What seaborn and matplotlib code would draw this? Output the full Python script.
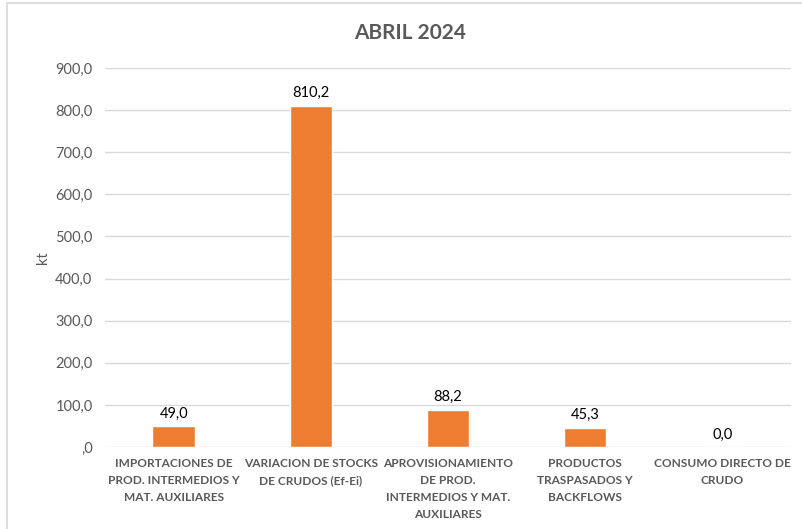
import pandas as pd
import seaborn as sns
import matplotlib.pyplot as plt
from matplotlib.patches import Rectangle

# Chart data
categories = [
    "IMPORTACIONES DE\nPROD. INTERMEDIOS Y\nMAT. AUXILIARES",
    "VARIACION DE STOCKS\nDE CRUDOS (Ef-Ei)",
    "APROVISIONAMIENTO\nDE PROD.\nINTERMEDIOS Y MAT.\nAUXILIARES",
    "PRODUCTOS\nTRASPASADOS Y\nBACKFLOWS",
    "CONSUMO DIRECTO DE\nCRUDO",
]
values = [49.0, 810.2, 88.2, 45.3, 0.0]
y_ticks = [0, 100, 200, 300, 400, 500, 600, 700, 800, 900]
y_tick_labels = [",0", "100,0", "200,0", "300,0", "400,0", "500,0",
                 "600,0", "700,0", "800,0", "900,0"]

sns.set_theme(style="white")
plt.rcParams['font.family'] = ['Lato', 'DejaVu Sans']

df = pd.DataFrame({"cat": categories, "val": values})

fig = plt.figure(figsize=(8.02, 5.29), dpi=100)
ax = fig.add_axes([0.131, 0.155, 0.855, 0.7165])

# outer chart border (top / left visible)
fig.patches.append(Rectangle((0.009, -0.01), 1.2, 1.004, transform=fig.transFigure,
                             fill=False, edgecolor="#d9d9d9", linewidth=1.2))

sns.barplot(data=df, x="cat", y="val", color="#ED7D31", width=0.31,
            saturation=1, ax=ax, zorder=3)

ax.set_ylim(0, 900)
ax.set_xlim(-0.5, 4.5)
ax.set_yticks(y_ticks)
ax.set_yticklabels(y_tick_labels, color="#595959", fontsize=10.5)
ax.yaxis.grid(True, color="#d9d9d9", linewidth=1, zorder=0)
ax.tick_params(axis="y", length=0, pad=9)
ax.tick_params(axis="x", length=0, pad=8)
for lab in ax.get_xticklabels():
    lab.set_fontsize(8.6)
    lab.set_fontweight("bold")
    lab.set_color("#595959")
    lab.set_linespacing(1.65)
for s in ax.spines.values():
    s.set_visible(False)

ax.set_xlabel("")
ax.set_ylabel("kt", color="#595959", fontsize=10.5, labelpad=4)

for i, v in enumerate(values):
    ax.annotate(f"{v:.1f}".replace(".", ","), (i, v), xytext=(0, 4),
                textcoords="offset points", ha="center", va="bottom",
                fontsize=10.5, color="black")

fig.text(0.511, 0.937, "ABRIL 2024", ha="center", va="center",
         fontsize=15, fontweight="bold", color="#595959")

plt.savefig("out.png", dpi=100)
